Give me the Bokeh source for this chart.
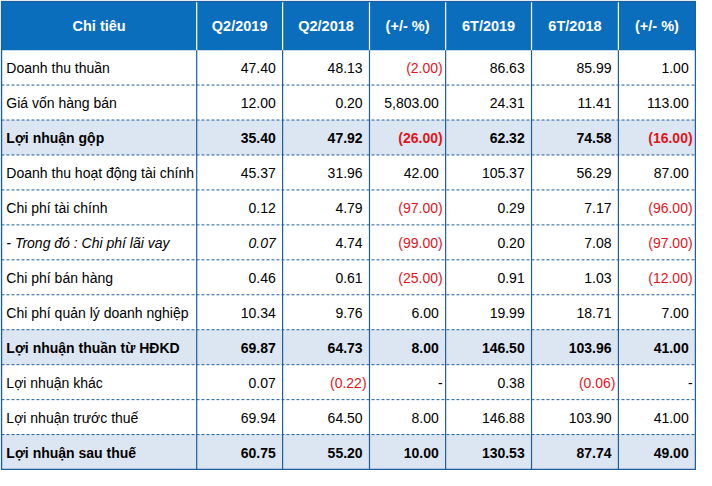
from bokeh.plotting import figure
from bokeh.models import Range1d, ColumnDataSource
from bokeh.core.properties import value
from bokeh.embed import file_html
from bokeh.resources import INLINE

headers = ["Chỉ tiêu", "Q2/2019", "Q2/2018", "(+/- %)", "6T/2019", "6T/2018", "(+/- %)"]
items = [
    "Doanh thu thuần",
    "Giá vốn hàng bán",
    "Lợi nhuận gộp",
    "Doanh thu hoạt động tài chính",
    "Chi phí tài chính",
    "- Trong đó : Chi phí lãi vay",
    "Chi phí bán hàng",
    "Chi phí quản lý doanh nghiệp",
    "Lợi nhuận thuần từ HĐKD",
    "Lợi nhuận khác",
    "Lợi nhuận trước thuế",
    "Lợi nhuận sau thuế",
]
q2_2019 = [47.40, 12.00, 35.40, 45.37, 0.12, 0.07, 0.46, 10.34, 69.87, 0.07, 69.94, 60.75]
q2_2018 = [48.13, 0.20, 47.92, 31.96, 4.79, 4.74, 0.61, 9.76, 64.73, -0.22, 64.50, 55.20]
q2_chg = [-2.00, 5803.00, -26.00, 42.00, -97.00, -99.00, -25.00, 6.00, 8.00, None, 8.00, 10.00]
h1_2019 = [86.63, 24.31, 62.32, 105.37, 0.29, 0.20, 0.91, 19.99, 146.50, 0.38, 146.88, 130.53]
h1_2018 = [85.99, 11.41, 74.58, 56.29, 7.17, 7.08, 1.03, 18.71, 103.96, -0.06, 103.90, 87.74]
h1_chg = [1.00, 113.00, -16.00, 87.00, -96.00, -97.00, -12.00, 7.00, 41.00, None, 41.00, 49.00]
bold_rows = [2, 8, 11]
italic_rows = [5]

# layout (reference pixel units)
col_edges = [0, 200, 288, 377, 455, 543, 632, 711]
header_h = 50
row_h = (481 - header_h) / len(items)
table_bottom = header_h + row_h * len(items)

HEADER_BG = "#0A6EBD"
HILITE_BG = "#DCE6F2"
LINE = "#1F5F9E"
RED = "#E3141B"
FONT = "Liberation Sans"
FS = "14px"
HFS = "14.5px"

p = figure(width=696, height=470, output_backend="svg", toolbar_location=None,
           x_range=Range1d(-1, 712), y_range=Range1d(482, -1),
           min_border=0)
p.axis.visible = False
p.grid.visible = False
p.outline_line_color = None
p.background_fill_color = "white"

# backgrounds
p.quad(left=[col_edges[0]], right=[col_edges[-1]], top=[0], bottom=[header_h],
       fill_color=HEADER_BG, line_color=None)
hl = [r for r in bold_rows]
p.quad(left=[col_edges[0]] * len(hl), right=[col_edges[-1]] * len(hl),
       top=[header_h + r * row_h for r in hl], bottom=[header_h + (r + 1) * row_h for r in hl],
       fill_color=HILITE_BG, line_color=None)

# header dividers (white)
p.segment(x0=col_edges[1:-1], x1=col_edges[1:-1], y0=[0] * 6, y1=[header_h] * 6,
          line_color="white", line_width=1.2)
# body vertical lines
p.segment(x0=col_edges[1:-1], x1=col_edges[1:-1], y0=[header_h] * 6, y1=[table_bottom] * 6,
          line_color=LINE, line_width=1.2)
# dashed horizontal lines
ys = [header_h + i * row_h for i in range(1, len(items))]
p.segment(x0=[0] * len(ys), x1=[col_edges[-1]] * len(ys), y0=ys, y1=ys,
          line_color=LINE, line_width=1, line_dash="3 2")
# outer border
p.quad(left=[0], right=[col_edges[-1]], top=[0], bottom=[table_bottom],
       fill_color=None, line_color=LINE, line_width=1.5)

# header text
hx = [(col_edges[i] + col_edges[i + 1]) / 2 for i in range(7)]
p.text(x=hx, y=[header_h / 2 + 0.5] * 7, text=headers, text_color="white",
       text_font=value(FONT), text_font_size=HFS, text_font_style="bold",
       text_align="center", text_baseline="middle")


def fmt(v):
    if v is None:
        return "-", "black"
    s = f"{abs(v):,.2f}"
    if v < 0:
        return f"({s})", RED
    return s, "black"


groups = {}


def add(style, align, x, y, t, c):
    g = groups.setdefault((style, align), dict(x=[], y=[], text=[], color=[]))
    g["x"].append(x)
    g["y"].append(y)
    g["text"].append(t)
    g["color"].append(c)


cols = [q2_2019, q2_2018, q2_chg, h1_2019, h1_2018, h1_chg]
for r, name in enumerate(items):
    yc = header_h + (r + 0.5) * row_h + 0.5
    base = "bold" if r in bold_rows else "normal"
    ital = "italic" if r in italic_rows else base
    add(ital, "left", 5, yc, name, "black")
    for ci, col in enumerate(cols):
        t, c = fmt(col[r])
        right = col_edges[ci + 2]
        pad = 7 if (col[r] is not None and col[r] >= 0) else 3
        add(ital if ci == 0 else base, "right", right - pad, yc, t, c)

for (style, align), g in groups.items():
    src = ColumnDataSource(g)
    p.text(x="x", y="y", text="text", text_color="color", source=src,
           text_font=value(FONT), text_font_size=FS, text_font_style=style,
           text_align=align, text_baseline="middle")

open("out.html", "w").write(file_html(p, INLINE))
